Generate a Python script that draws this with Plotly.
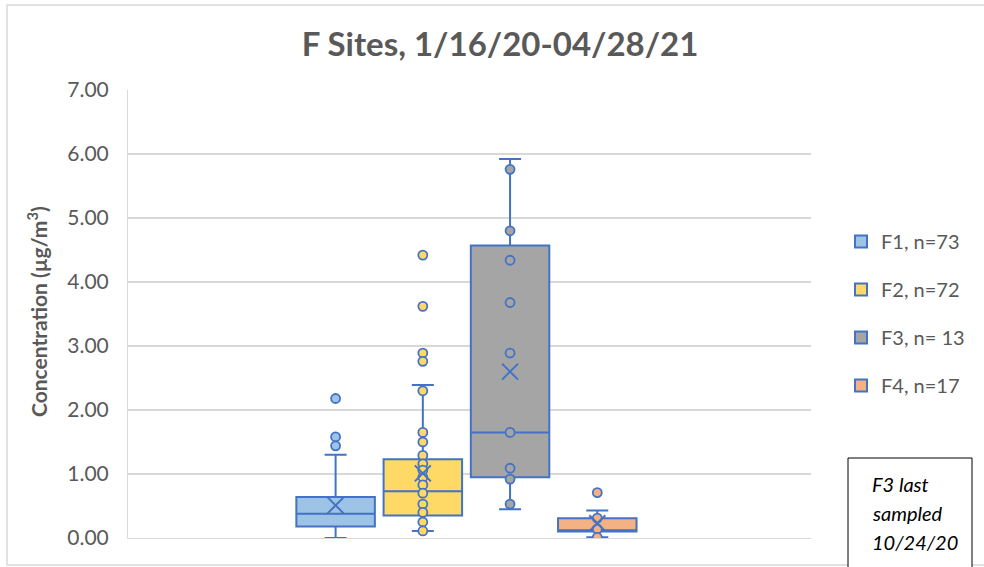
import plotly.graph_objects as go

# ---------------- data ----------------
sites = ["F1", "F2", "F3", "F4"]
legend_names = ["F1, n=73", "F2, n=72", "F3, n= 13", "F4, n=17"]
q1_vals = [0.18, 0.35, 0.95, 0.10]
median_vals = [0.38, 0.73, 1.65, 0.12]
q3_vals = [0.64, 1.23, 4.57, 0.31]
lower_whisker = [0.00, 0.11, 0.45, 0.01]
upper_whisker = [1.30, 2.39, 5.92, 0.43]
mean_vals = [0.51, 1.01, 2.60, 0.23]

points_f1 = [2.18, 1.58, 1.44]
points_f2 = [4.42, 3.62, 2.89, 2.76, 2.30, 1.65, 1.50, 1.29, 1.16, 1.06,
             0.95, 0.83, 0.70, 0.53, 0.40, 0.25, 0.11]
points_f3 = [5.76, 4.80, 4.34, 3.68, 2.89, 1.65, 1.09, 0.92, 0.53]
points_f4 = [0.71, 0.31, 0.14, 0.01]
site_points = [points_f1, points_f2, points_f3, points_f4]

y_ticks = [0, 1, 2, 3, 4, 5, 6, 7]

# ---------------- styles ----------------
fills = ["#9DC3E6", "#FFD966", "#A5A5A5", "#F4B183"]
edge = "#4472C4"
text_col = "#595959"
grid_col = "#D9D9D9"
FONT = "Lato"

W, H = 984, 567

fig = go.Figure()

for i, s in enumerate(sites):
    fig.add_trace(go.Box(
        x=[s], q1=[q1_vals[i]], median=[median_vals[i]], q3=[q3_vals[i]],
        lowerfence=[lower_whisker[i]], upperfence=[upper_whisker[i]],
        name=legend_names[i], fillcolor=fills[i],
        line=dict(color=edge, width=2), width=0.9, whiskerwidth=0.28,
        boxpoints=False, legendgroup=s, hoverinfo="skip",
    ))

for i, s in enumerate(sites):
    pts = site_points[i]
    fig.add_trace(go.Scatter(
        x=[s] * len(pts), y=pts, mode="markers", showlegend=False,
        legendgroup=s,
        marker=dict(symbol="circle", size=9, color=fills[i],
                    line=dict(color=edge, width=1.8)),
        hoverinfo="skip",
    ))
    fig.add_trace(go.Scatter(
        x=[s], y=[mean_vals[i]], mode="markers", showlegend=False,
        legendgroup=s,
        marker=dict(symbol="x-thin", size=16, color=edge,
                    line=dict(color=edge, width=2)),
        hoverinfo="skip",
    ))

def px_x(p):
    return p / W

def px_y(p):
    return (H - p) / H

fig.update_layout(
    width=W, height=H,
    margin=dict(l=0, r=0, t=0, b=0),
    paper_bgcolor="white", plot_bgcolor="white",
    font=dict(family=FONT, color=text_col),
    boxmode="overlay",
    title=dict(text="<b>F Sites, 1/16/20-04/28/21</b>", x=px_x(500), xanchor="center",
               y=px_y(44), yanchor="middle",
               font=dict(size=33, color=text_col, family=FONT)),
    xaxis=dict(domain=[px_x(128), px_x(811)], type="category",
               categoryorder="array", categoryarray=sites,
               range=[-2.38, 5.45], showticklabels=False, showgrid=False,
               zeroline=False, showline=True, linecolor=grid_col, linewidth=1,
               fixedrange=True),
    yaxis=dict(domain=[px_y(538), px_y(90)], range=[0, 7], tickvals=y_ticks,
               tickformat=".2f", showgrid=True, gridcolor=grid_col, gridwidth=1.5,
               zeroline=False, showline=True, linecolor=grid_col, linewidth=1,
               tickfont=dict(size=21, color=text_col, family=FONT),
               ticklabelstandoff=14, automargin=False),
    legend=dict(x=px_x(841), y=px_y(222), xanchor="left", yanchor="top",
                font=dict(size=20, color=text_col, family=FONT),
                tracegroupgap=19, bgcolor="rgba(0,0,0,0)"),
    showlegend=True,
)

# outer chart border
fig.add_shape(type="rect", xref="paper", yref="paper",
              x0=px_x(7), x1=1.01, y0=px_y(565), y1=px_y(5),
              line=dict(color=grid_col, width=1.5), fillcolor="rgba(0,0,0,0)")

# y axis title
fig.add_annotation(xref="paper", yref="paper", x=px_x(37), y=px_y(312),
                   text="<b>Concentration (µg/m<sup>3</sup>)</b>", textangle=-90,
                   showarrow=False, font=dict(size=21, color=text_col, family=FONT),
                   xanchor="center", yanchor="middle")

# note box
fig.add_shape(type="rect", xref="paper", yref="paper",
              x0=px_x(848), x1=px_x(972), y0=-0.02, y1=px_y(458),
              line=dict(color="black", width=1), fillcolor="white")
note_lines = ["F3 last", "sampled", "10/24/20"]
for k, line in enumerate(note_lines):
    fig.add_annotation(xref="paper", yref="paper", x=px_x(870), y=px_y(484 + 29 * k),
                       text="<i>" + line + "</i>", showarrow=False,
                       xanchor="left", yanchor="middle",
                       font=dict(size=20, color="black", family=FONT))

fig.write_html("out.html", config={"displayModeBar": False},
               post_script="document.body.style.margin='0px';document.body.style.overflow='hidden';")
